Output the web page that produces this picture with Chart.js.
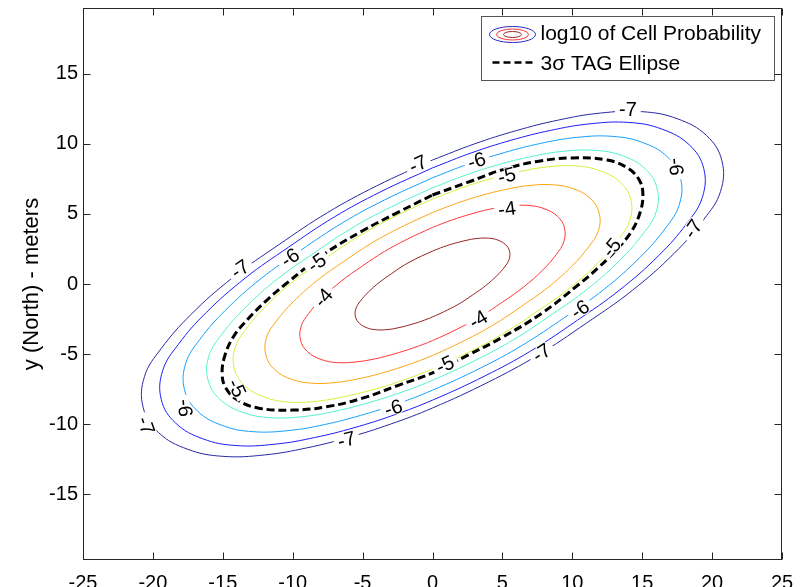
<!DOCTYPE html>
<html>
<head>
<meta charset="utf-8">
<script src="https://cdn.jsdelivr.net/npm/chart.js@4.4.1/dist/chart.umd.min.js"></script>
<style>
  html, body { margin: 0; padding: 0; background: #fff; overflow: hidden; }
  #wrap { position: relative; width: 803px; height: 600px; }
</style>
</head>
<body>
<div id="wrap"><canvas id="myChart"></canvas></div>
<script>
const xTicks = [-25, -20, -15, -10, -5, 0, 5, 10, 15, 20, 25];
const yTicks = [-15, -10, -5, 0, 5, 10, 15];
const levels = [-7, -6.5, -6, -5.5, -5, -4.5, -4, -3.5];

// contour outlines (x, y in meters)
const level7 = [[0,8.85],[3,10],[6,10.95],[9,11.7],[12,12.2],[15,12.3],[17.5,11.8],[19.6,10.6],[20.7,8.8],[20.6,6.6],[19.4,4.6],[17.3,2.2],[14.3,-0.45],[11,-2.8],[7.5,-5.1],[4,-7],[0,-8.85],
  [-3,-10],[-6,-10.95],[-9,-11.7],[-12,-12.2],[-15,-12.3],[-17.5,-11.8],[-19.6,-10.6],[-20.7,-8.8],[-20.6,-6.6],[-19.4,-4.6],[-17.3,-2.2],[-14.3,0.45],[-11,2.8],[-7.5,5.1],[-4,7],[0,8.85]];
const level65 = [[0,8.29],[2.81,9.37],[5.62,10.26],[8.43,10.96],[11.24,11.43],[14.06,11.53],[16.4,11.06],[18.37,9.93],[19.4,8.25],[19.3,6.18],[18.18,4.31],[16.21,2.06],[13.4,-0.42],[10.31,-2.62],[7.03,-4.78],[3.75,-6.56],[0,-8.29],
  [-2.81,-9.37],[-5.62,-10.26],[-8.43,-10.96],[-11.24,-11.43],[-14.06,-11.53],[-16.4,-11.06],[-18.37,-9.93],[-19.4,-8.25],[-19.3,-6.18],[-18.18,-4.31],[-16.21,-2.06],[-13.4,0.42],[-10.31,2.62],[-7.03,4.78],[-3.75,6.56],[0,8.29]];
const level6 = [[0,7.58],[2.57,8.57],[5.14,9.38],[7.71,10.03],[10.28,10.46],[12.86,10.54],[15,10.11],[16.8,9.08],[17.74,7.54],[17.65,5.66],[16.63,3.94],[14.83,1.89],[12.26,-0.39],[9.43,-2.4],[6.43,-4.37],[3.43,-6],[0,-7.58],
  [-2.57,-8.57],[-5.14,-9.38],[-7.71,-10.03],[-10.28,-10.46],[-12.86,-10.54],[-15,-10.11],[-16.8,-9.08],[-17.74,-7.54],[-17.65,-5.66],[-16.63,-3.94],[-14.83,-1.89],[-12.26,0.39],[-9.43,2.4],[-6.43,4.37],[-3.43,6],[0,7.58]];
const level55 = [[0,6.87],[2.33,7.76],[4.66,8.5],[6.98,9.08],[9.31,9.47],[11.64,9.54],[13.58,9.16],[15.21,8.23],[16.06,6.83],[15.99,5.12],[15.05,3.57],[13.42,1.71],[11.1,-0.35],[8.54,-2.17],[5.82,-3.96],[3.1,-5.43],[0,-6.87],
  [-2.33,-7.76],[-4.66,-8.5],[-6.98,-9.08],[-9.31,-9.47],[-11.64,-9.54],[-13.58,-9.16],[-15.21,-8.23],[-16.06,-6.83],[-15.99,-5.12],[-15.05,-3.57],[-13.42,-1.71],[-11.1,0.35],[-8.54,2.17],[-5.82,3.96],[-3.1,5.43],[0,6.87]];
const level5 = [[0,6.06],[2.06,6.85],[4.11,7.5],[6.17,8.01],[8.22,8.36],[10.28,8.43],[11.99,8.08],[13.43,7.26],[14.18,6.03],[14.11,4.52],[13.29,3.15],[11.85,1.51],[9.8,-0.31],[7.54,-1.92],[5.14,-3.49],[2.74,-4.8],[0,-6.06],
  [-2.06,-6.85],[-4.11,-7.5],[-6.17,-8.01],[-8.22,-8.36],[-10.28,-8.43],[-11.99,-8.08],[-13.43,-7.26],[-14.18,-6.03],[-14.11,-4.52],[-13.29,-3.15],[-11.85,-1.51],[-9.8,0.31],[-7.54,1.92],[-5.14,3.49],[-2.74,4.8],[0,6.06]];
const level45 = [[0,5.1],[1.73,5.76],[3.46,6.31],[5.18,6.74],[6.91,7.03],[8.64,7.08],[10.08,6.8],[11.29,6.11],[11.92,5.07],[11.87,3.8],[11.17,2.65],[9.96,1.27],[8.24,-0.26],[6.34,-1.61],[4.32,-2.94],[2.3,-4.03],[0,-5.1],
  [-1.73,-5.76],[-3.46,-6.31],[-5.18,-6.74],[-6.91,-7.03],[-8.64,-7.08],[-10.08,-6.8],[-11.29,-6.11],[-11.92,-5.07],[-11.87,-3.8],[-11.17,-2.65],[-9.96,-1.27],[-8.24,0.26],[-6.34,1.61],[-4.32,2.94],[-2.3,4.03],[0,5.1]];
const level4 = [[0,4.04],[1.37,4.56],[2.74,4.99],[4.1,5.34],[5.47,5.56],[6.84,5.61],[7.98,5.38],[8.94,4.83],[9.44,4.01],[9.39,3.01],[8.85,2.1],[7.89,1],[6.52,-0.21],[5.02,-1.28],[3.42,-2.33],[1.82,-3.19],[0,-4.04],
  [-1.37,-4.56],[-2.74,-4.99],[-4.1,-5.34],[-5.47,-5.56],[-6.84,-5.61],[-7.98,-5.38],[-8.94,-4.83],[-9.44,-4.01],[-9.39,-3.01],[-8.85,-2.1],[-7.89,-1],[-6.52,0.21],[-5.02,1.28],[-3.42,2.33],[-1.82,3.19],[0,4.04]];
const level35 = [[0,2.35],[0.8,2.66],[1.6,2.91],[2.39,3.11],[3.19,3.25],[3.99,3.27],[4.66,3.14],[5.21,2.82],[5.51,2.34],[5.48,1.76],[5.16,1.22],[4.6,0.59],[3.8,-0.12],[2.93,-0.74],[2,-1.36],[1.06,-1.86],[0,-2.35],
  [-0.8,-2.66],[-1.6,-2.91],[-2.39,-3.11],[-3.19,-3.25],[-3.99,-3.27],[-4.66,-3.14],[-5.21,-2.82],[-5.51,-2.34],[-5.48,-1.76],[-5.16,-1.22],[-4.6,-0.59],[-3.8,0.12],[-2.93,0.74],[-2,1.36],[-1.06,1.86],[0,2.35]];

// 3 sigma TAG ellipse
const tagEllipse = [[0,6.35],[2.5,7.25],[5,8.15],[7.5,8.75],[10,9],[12.5,8.85],[14,8.25],[14.8,7.4],[15.05,6.4],[14.85,5.1],[14.2,3.7],[13.2,2.5],[11.9,1.2],[10.5,0],[7.8,-2.1],[5,-3.8],[2.5,-5.1],[0,-6.35],
  [-2.5,-7.25],[-5,-8.15],[-7.5,-8.75],[-10,-9],[-12.5,-8.85],[-14,-8.25],[-14.8,-7.4],[-15.05,-6.4],[-14.85,-5.1],[-14.2,-3.7],[-13.2,-2.5],[-11.9,-1.2],[-10.5,0],[-7.8,2.1],[-5,3.8],[-2.5,5.1],[0,6.35]];

// inline contour labels
const labelText = ['-7','-6','-7','-5','-4','-5','-6','-7','-7','-6','-5','-4','-4','-5','-6','-7','-6','-7','-5','-6','-7'];
const labelX = [13.98, 17.42, 18.63, 12.82, 5.33, 5.31, 3.16, -1.04, -13.77, -10.19, -8.28, -7.81, 3.28, 0.89, 10.55, 7.81, -2.8, -6.14, -14.0, -17.7, -20.5];
const labelY = [12.45, 8.37, 3.93, 2.6, 5.36, 7.73, 8.8, 8.56, 1.07, 1.88, 1.52, -0.98, -2.53, -5.75, -1.81, -4.91, -8.85, -11.11, -7.42, -8.85, -10.1];
const labelAngle = [0, 85, -55, -50, -8, -14, -17, -25, -35, -35, -35, -49, -31, -25, -35, -33, -17, -14, 65, 85, 70];

const legendLabels = ['log10 of Cell Probability', '3\u03c3 TAG Ellipse'];

const contourSets = [level7, level65, level6, level55, level5, level45, level4, level35];
const contourColors = ['rgb(40,40,165)', 'rgb(30,30,250)', 'rgb(20,160,255)', 'rgb(80,245,205)',
                       'rgb(205,245,60)', 'rgb(255,165,20)', 'rgb(255,55,55)', 'rgb(150,35,35)'];
const fontFam = '"Liberation Sans", Arial, Helvetica, sans-serif';

const toXY = pts => pts.map(p => ({ x: p[0], y: p[1] }));

const datasets = contourSets.map((pts, i) => ({
  label: 'log10 = ' + levels[i],
  data: toXY(pts),
  showLine: true,
  borderColor: contourColors[i],
  borderWidth: 1,
  pointRadius: 0,
  tension: 0.4
}));
datasets.push({
  label: legendLabels[1],
  data: toXY(tagEllipse),
  showLine: true,
  borderColor: '#000',
  borderWidth: 3,
  borderDash: [8, 4],
  pointRadius: 0,
  tension: 0.4,
  order: -1
});

const matlabLook = {
  id: 'matlabLook',
  afterDatasetsDraw(chart) {
    const ctx = chart.ctx;
    const xs = chart.scales.x, ys = chart.scales.y;
    const a = chart.chartArea;

    // contour labels with a gap in the line
    ctx.save();
    ctx.beginPath();
    ctx.rect(a.left, a.top, a.right - a.left, a.bottom - a.top);
    ctx.clip();
    ctx.font = '20px ' + fontFam;
    ctx.textAlign = 'center';
    ctx.textBaseline = 'middle';
    labelText.forEach((t, i) => {
      const px = xs.getPixelForValue(labelX[i]);
      const py = ys.getPixelForValue(labelY[i]);
      ctx.save();
      ctx.translate(px, py);
      ctx.rotate(labelAngle[i] * Math.PI / 180);
      const w = ctx.measureText(t).width;
      ctx.fillStyle = '#fff';
      ctx.fillRect(-w / 2 - 4, -5, w + 8, 10);
      ctx.lineWidth = 2;
      ctx.strokeStyle = '#fff';
      ctx.strokeText(t, 0, 1);
      ctx.fillStyle = '#000';
      ctx.fillText(t, 0, 1);
      ctx.restore();
    });
    ctx.restore();

    // box and inward ticks
    ctx.save();
    ctx.strokeStyle = '#262626';
    ctx.lineWidth = 1;
    const L = Math.round(a.left) + 0.5, R = Math.round(a.right) - 0.5;
    const T = Math.round(a.top) + 0.5, B = Math.round(a.bottom) - 0.5;
    ctx.strokeRect(L, T, R - L, B - T);
    ctx.beginPath();
    xTicks.forEach(v => {
      const px = Math.round(xs.getPixelForValue(v)) + 0.5;
      ctx.moveTo(px, B); ctx.lineTo(px, B - 7);
      ctx.moveTo(px, T); ctx.lineTo(px, T + 7);
    });
    yTicks.forEach(v => {
      const py = Math.round(ys.getPixelForValue(v)) + 0.5;
      ctx.moveTo(L, py); ctx.lineTo(L + 7, py);
      ctx.moveTo(R, py); ctx.lineTo(R - 7, py);
    });
    ctx.stroke();

    // legend
    const lx = Math.round(a.right) - 301 + 0.5, ly = Math.round(a.top) + 8 + 0.5;
    ctx.fillStyle = '#fff';
    ctx.fillRect(lx, ly, 293, 64);
    ctx.strokeStyle = '#555';
    ctx.strokeRect(lx, ly, 293, 64);
    const cx = lx + 31, cy = ly + 18;
    [[23, 8, 'rgb(40,40,200)'], [16, 5.5, 'rgb(255,50,50)'], [9, 3, 'rgb(150,40,40)']].forEach(e => {
      ctx.beginPath();
      ctx.strokeStyle = e[2];
      ctx.ellipse(cx, cy, e[0], e[1], 0, 0, Math.PI * 2);
      ctx.stroke();
    });
    ctx.beginPath();
    ctx.strokeStyle = '#000';
    ctx.lineWidth = 2.5;
    ctx.setLineDash([7, 4]);
    ctx.moveTo(lx + 11, ly + 46);
    ctx.lineTo(lx + 52, ly + 46);
    ctx.stroke();
    ctx.setLineDash([]);
    ctx.fillStyle = '#000';
    ctx.font = '21px ' + fontFam;
    ctx.textAlign = 'left';
    ctx.textBaseline = 'alphabetic';
    ctx.fillText(legendLabels[0], lx + 59, ly + 23.5);
    ctx.fillText(legendLabels[1], lx + 59, ly + 53);
    ctx.restore();
  }
};

new Chart(document.getElementById('myChart'), {
  type: 'scatter',
  data: { datasets: datasets },
  options: {
    responsive: true,
    maintainAspectRatio: false,
    animation: false,
    layout: { padding: { left: 19, right: 21, top: 8, bottom: 0 } },
    plugins: { legend: { display: false }, tooltip: { enabled: false } },
    scales: {
      x: {
        type: 'linear',
        min: -25,
        max: 25,
        grid: { display: false, drawTicks: false },
        border: { display: false },
        ticks: { color: '#000', font: { family: fontFam, size: 20 }, padding: 11, autoSkip: false, maxRotation: 0 },
        afterBuildTicks: s => { s.ticks = xTicks.map(v => ({ value: v })); },
        afterFit: s => { s.height = 40; s.paddingLeft = 0; s.paddingRight = 0; }
      },
      y: {
        type: 'linear',
        min: -19.7,
        max: 19.7,
        grid: { display: false, drawTicks: false },
        border: { display: false },
        ticks: { color: '#000', font: { family: fontFam, size: 20 }, padding: 5, autoSkip: false },
        title: { display: true, text: 'y (North) - meters', color: '#000', font: { family: fontFam, size: 22 }, padding: 0 },
        afterBuildTicks: s => { s.ticks = yTicks.map(v => ({ value: v })); },
        afterFit: s => { s.width = 64; s.paddingTop = 0; s.paddingBottom = 0; }
      }
    }
  },
  plugins: [matlabLook]
});
</script>
</body>
</html>
